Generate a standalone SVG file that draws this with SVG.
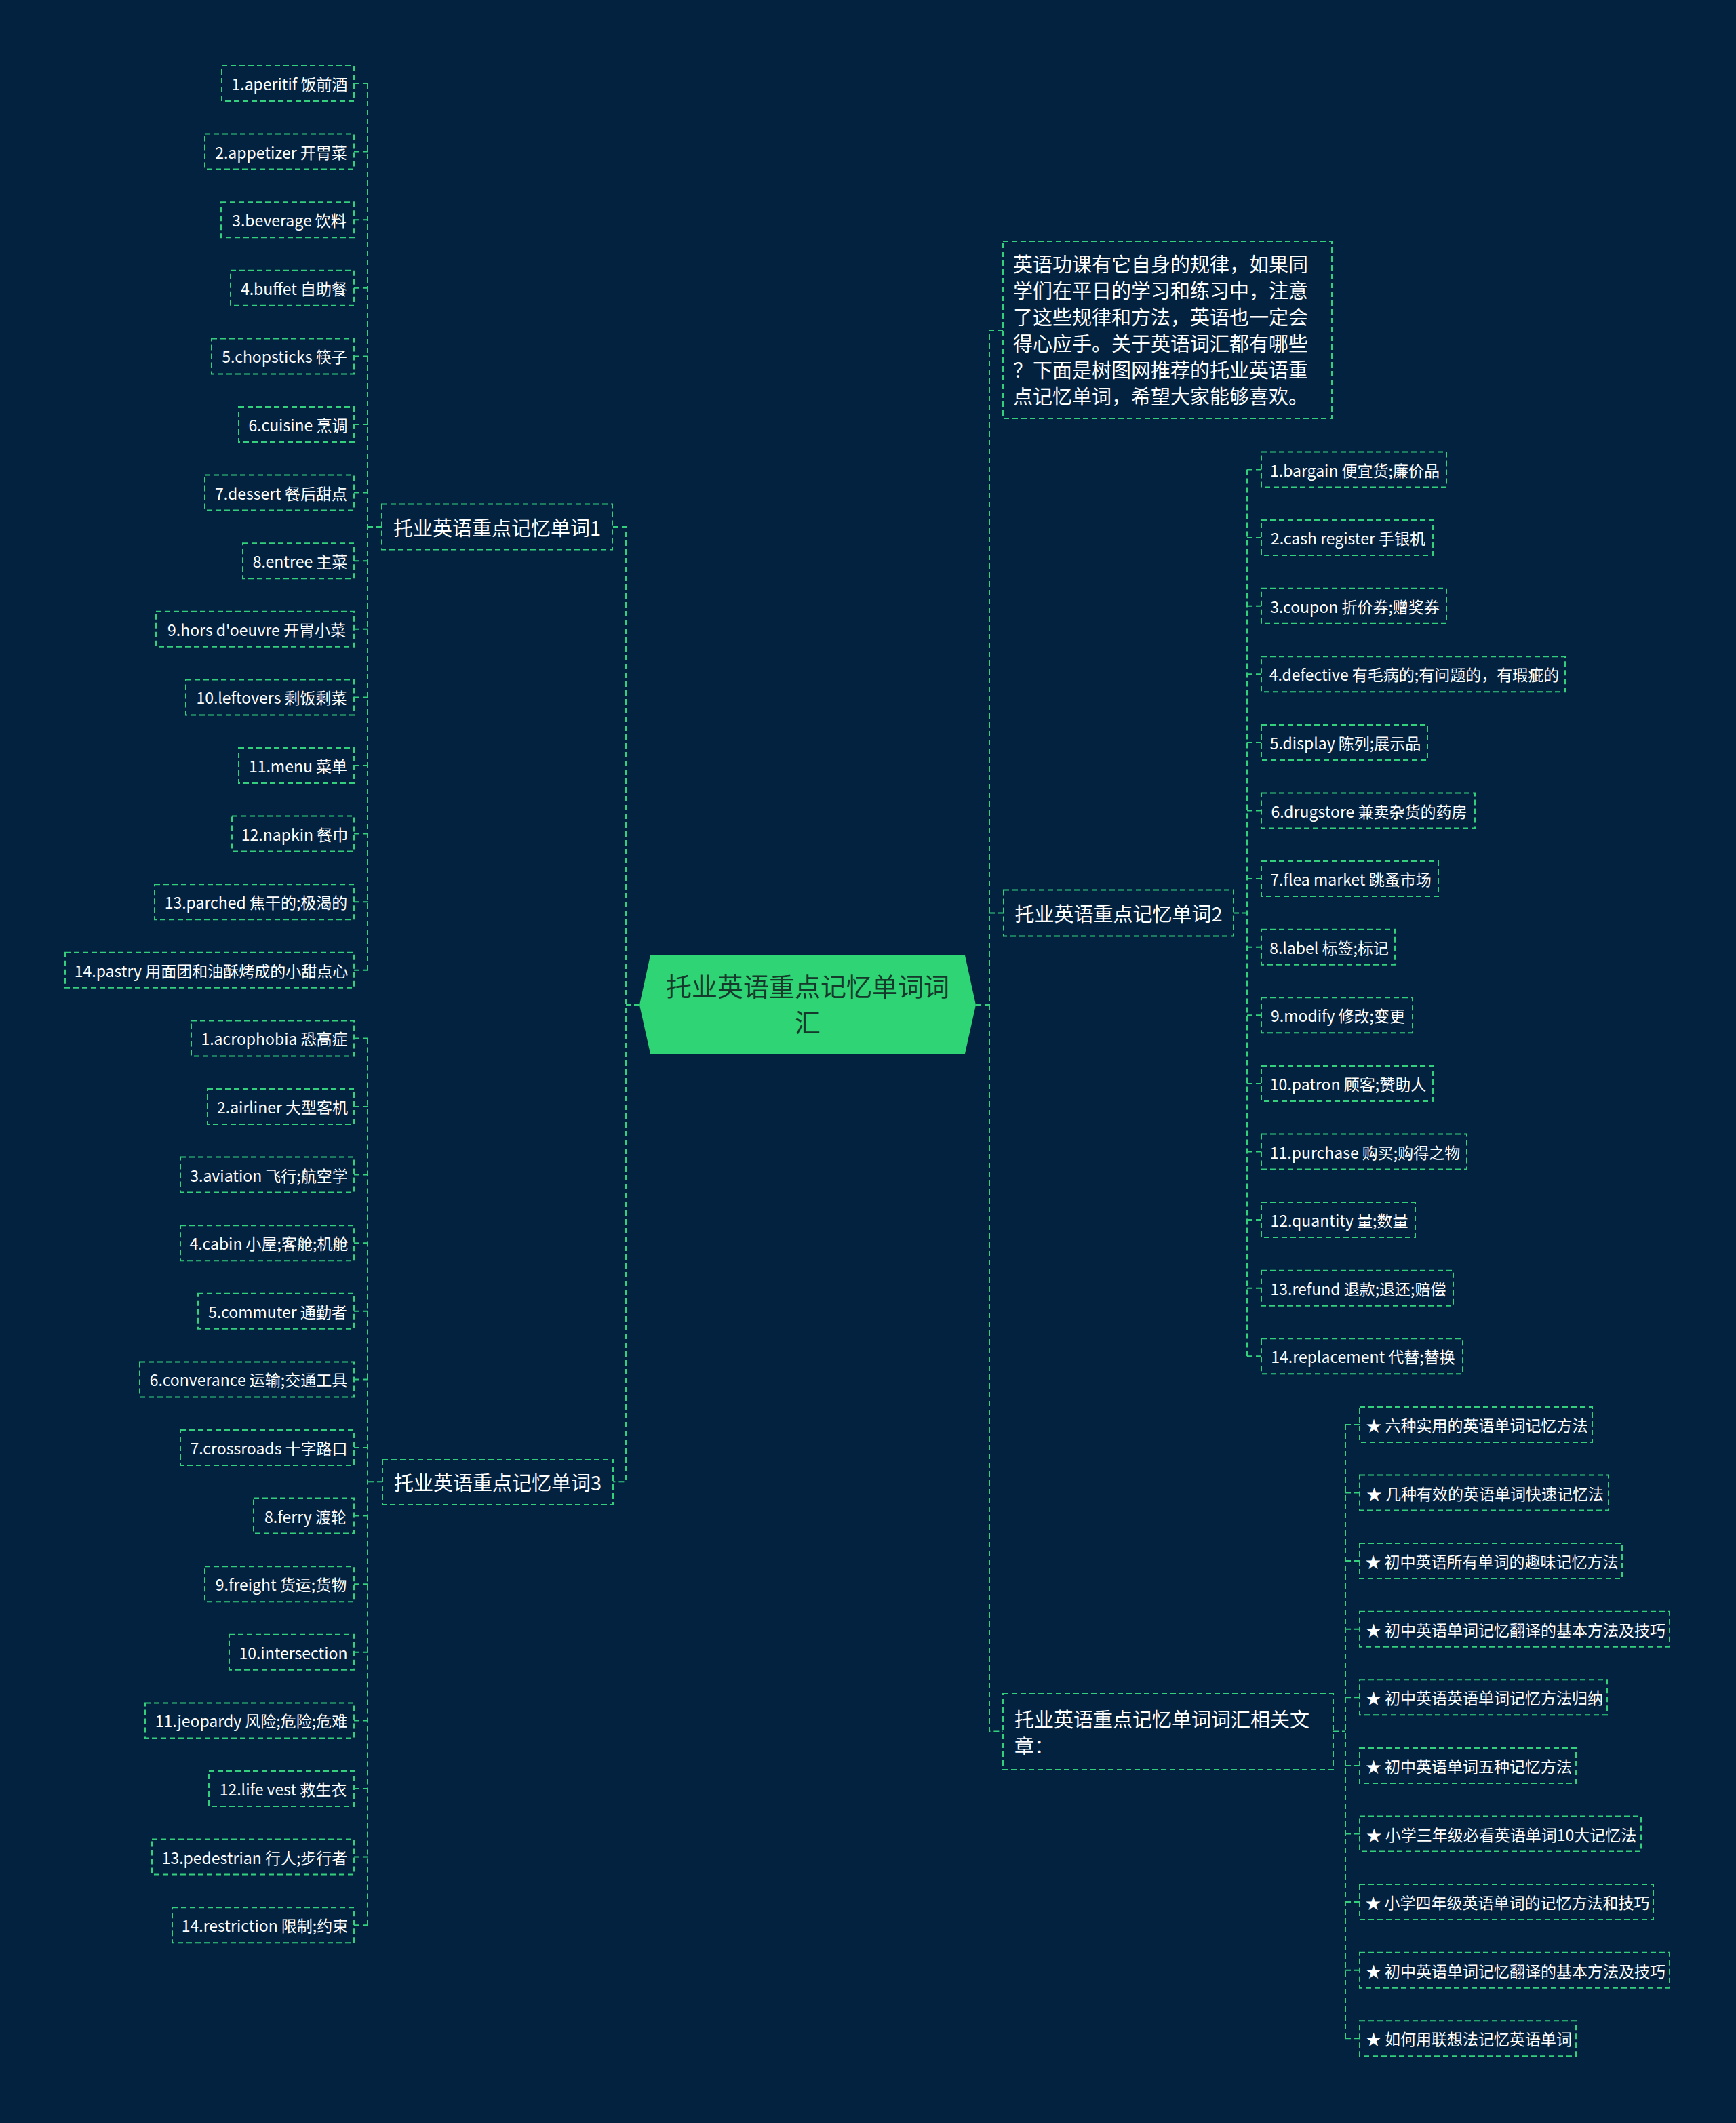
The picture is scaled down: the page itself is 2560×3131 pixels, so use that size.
<svg xmlns="http://www.w3.org/2000/svg" width="2560" height="3131" viewBox="0 0 2560 3131">
<style>
.bg{fill:#02223f}
.box{fill:none;stroke:#34cf7d;stroke-width:2;stroke-dasharray:8 5}
.ln{fill:none;stroke:#34cf7d;stroke-width:2;stroke-dasharray:8 5}
text{font-family:"Noto Sans CJK SC","Noto Sans",sans-serif;fill:#ffffff}
.lf{font-size:23px;text-anchor:middle;dominant-baseline:central}
.br{font-size:29px;text-anchor:middle;dominant-baseline:central}
.tx{font-size:29px;dominant-baseline:central}
.ct{font-size:38px;text-anchor:middle;dominant-baseline:central;fill:#153a2b}
</style>
<rect class="bg" x="0" y="0" width="2560" height="3131"/>
<g id="connectors">
<path class="ln" d="M943 1482H923M904 776.9H923V2185.3H904"/>
<path class="ln" d="M1439 1482H1459M1479 487H1459V2553.6H1479M1459 1346.4H1480"/>
<path class="ln" d="M563 776.9H542M542 123V1430.8M522 123H542M522 223.6H542M522 324.2H542M522 424.8H542M522 525.4H542M522 626H542M522 726.6H542M522 827.2H542M522 927.8H542M522 1028.4H542M522 1129H542M522 1229.6H542M522 1330.2H542M522 1430.8H542"/>
<path class="ln" d="M564 2185.3H542M542 1531.4V2839.2M522 1531.4H542M522 1632H542M522 1732.6H542M522 1833.2H542M522 1933.8H542M522 2034.4H542M522 2135H542M522 2235.6H542M522 2336.2H542M522 2436.8H542M522 2537.4H542M522 2638H542M522 2738.6H542M522 2839.2H542"/>
<path class="ln" d="M1819 1346.4H1839M1839 692.5V2000.3M1860 692.5H1839M1860 793.1H1839M1860 893.7H1839M1860 994.3H1839M1860 1094.9H1839M1860 1195.5H1839M1860 1296.1H1839M1860 1396.7H1839M1860 1497.3H1839M1860 1597.9H1839M1860 1698.5H1839M1860 1799.1H1839M1860 1899.7H1839M1860 2000.3H1839"/>
<path class="ln" d="M1966 2553.6H1984M1984 2100.9V3006.3M2005 2100.9H1984M2005 2201.5H1984M2005 2302.1H1984M2005 2402.7H1984M2005 2503.3H1984M2005 2603.9H1984M2005 2704.5H1984M2005 2805.1H1984M2005 2905.7H1984M2005 3006.3H1984"/>
</g>
<g id="center">
<polygon points="959,1409 1423,1409 1439,1482 1423,1554 959,1554 943,1482" fill="#2fd474"/>
<text class="ct" x="1191" y="1452">托业英语重点记忆单词词</text>
<text class="ct" x="1191" y="1505">汇</text>
</g>
<g id="intro">
<rect class="box" x="1479" y="356" width="485" height="261"/>
<text class="tx" x="1494" y="388">英语功课有它自身的规律，如果同</text>
<text class="tx" x="1494" y="427">学们在平日的学习和练习中，注意</text>
<text class="tx" x="1494" y="466">了这些规律和方法，英语也一定会</text>
<text class="tx" x="1494" y="505">得心应手。关于英语词汇都有哪些</text>
<text class="tx" x="1494" y="544">？下面是树图网推荐的托业英语重</text>
<text class="tx" x="1494" y="583">点记忆单词，希望大家能够喜欢。</text>
</g>
<g id="b1"><rect class="box" x="563" y="743.5" width="340" height="67"/><text class="br" x="733" y="776.9">托业英语重点记忆单词1</text></g>
<g id="b2"><rect class="box" x="1480" y="1312.5" width="339" height="68"/><text class="br" x="1649.5" y="1346.4">托业英语重点记忆单词2</text></g>
<g id="b3"><rect class="box" x="564" y="2152" width="340" height="67"/><text class="br" x="734" y="2185.3">托业英语重点记忆单词3</text></g>
<g id="b4"><rect class="box" x="1479" y="2498" width="487" height="112"/><text class="tx" x="1496" y="2534">托业英语重点记忆单词词汇相关文</text><text class="tx" x="1496" y="2573">章：</text></g>
<g id="l1" transform="translate(0,123)"><rect class="box" x="327" y="-26" width="195" height="52"/><text class="lf" x="427" y="0">1.aperitif 饭前酒</text></g>
<g id="l2" transform="translate(0,223.6)"><rect class="box" x="302" y="-26" width="220" height="52"/><text class="lf" x="414.5" y="0">2.appetizer 开胃菜</text></g>
<g id="l3" transform="translate(0,324.2)"><rect class="box" x="326" y="-26" width="196" height="52"/><text class="lf" x="426.5" y="0">3.beverage 饮料</text></g>
<g id="l4" transform="translate(0,424.8)"><rect class="box" x="340" y="-26" width="182" height="52"/><text class="lf" x="433.5" y="0">4.buffet 自助餐</text></g>
<g id="l5" transform="translate(0,525.4)"><rect class="box" x="312" y="-26" width="210" height="52"/><text class="lf" x="419.5" y="0">5.chopsticks 筷子</text></g>
<g id="l6" transform="translate(0,626)"><rect class="box" x="352" y="-26" width="170" height="52"/><text class="lf" x="439.5" y="0">6.cuisine 烹调</text></g>
<g id="l7" transform="translate(0,726.6)"><rect class="box" x="302" y="-26" width="220" height="52"/><text class="lf" x="414.5" y="0">7.dessert 餐后甜点</text></g>
<g id="l8" transform="translate(0,827.2)"><rect class="box" x="358" y="-26" width="164" height="52"/><text class="lf" x="442.5" y="0">8.entree 主菜</text></g>
<g id="l9" transform="translate(0,927.8)"><rect class="box" x="230" y="-26" width="292" height="52"/><text class="lf" x="378.5" y="0">9.hors d'oeuvre 开胃小菜</text></g>
<g id="l10" transform="translate(0,1028.4)"><rect class="box" x="274" y="-26" width="248" height="52"/><text class="lf" x="400.5" y="0">10.leftovers 剩饭剩菜</text></g>
<g id="l11" transform="translate(0,1129)"><rect class="box" x="352" y="-26" width="170" height="52"/><text class="lf" x="439.5" y="0">11.menu 菜单</text></g>
<g id="l12" transform="translate(0,1229.6)"><rect class="box" x="342" y="-26" width="180" height="52"/><text class="lf" x="434.5" y="0">12.napkin 餐巾</text></g>
<g id="l13" transform="translate(0,1330.2)"><rect class="box" x="228" y="-26" width="294" height="52"/><text class="lf" x="377.5" y="0">13.parched 焦干的;极渴的</text></g>
<g id="l14" transform="translate(0,1430.8)"><rect class="box" x="96" y="-26" width="426" height="52"/><text class="lf" x="311.5" y="0">14.pastry 用面团和油酥烤成的小甜点心</text></g>
<g id="m1" transform="translate(0,1531.4)"><rect class="box" x="282" y="-26" width="240" height="52"/><text class="lf" x="404.5" y="0">1.acrophobia 恐高症</text></g>
<g id="m2" transform="translate(0,1632)"><rect class="box" x="306" y="-26" width="216" height="52"/><text class="lf" x="416.5" y="0">2.airliner 大型客机</text></g>
<g id="m3" transform="translate(0,1732.6)"><rect class="box" x="266" y="-26" width="256" height="52"/><text class="lf" x="396.5" y="0">3.aviation 飞行;航空学</text></g>
<g id="m4" transform="translate(0,1833.2)"><rect class="box" x="266" y="-26" width="256" height="52"/><text class="lf" x="396.5" y="0">4.cabin 小屋;客舱;机舱</text></g>
<g id="m5" transform="translate(0,1933.8)"><rect class="box" x="292" y="-26" width="230" height="52"/><text class="lf" x="409.5" y="0">5.commuter 通勤者</text></g>
<g id="m6" transform="translate(0,2034.4)"><rect class="box" x="206" y="-26" width="316" height="52"/><text class="lf" x="366.5" y="0">6.converance 运输;交通工具</text></g>
<g id="m7" transform="translate(0,2135)"><rect class="box" x="266" y="-26" width="256" height="52"/><text class="lf" x="396.5" y="0">7.crossroads 十字路口</text></g>
<g id="m8" transform="translate(0,2235.6)"><rect class="box" x="374" y="-26" width="148" height="52"/><text class="lf" x="450.5" y="0">8.ferry 渡轮</text></g>
<g id="m9" transform="translate(0,2336.2)"><rect class="box" x="302" y="-26" width="220" height="52"/><text class="lf" x="414.5" y="0">9.freight 货运;货物</text></g>
<g id="m10" transform="translate(0,2436.8)"><rect class="box" x="338" y="-26" width="184" height="52"/><text class="lf" x="432.5" y="0">10.intersection</text></g>
<g id="m11" transform="translate(0,2537.4)"><rect class="box" x="214" y="-26" width="308" height="52"/><text class="lf" x="370.5" y="0">11.jeopardy 风险;危险;危难</text></g>
<g id="m12" transform="translate(0,2638)"><rect class="box" x="308" y="-26" width="214" height="52"/><text class="lf" x="417.5" y="0">12.life vest 救生衣</text></g>
<g id="m13" transform="translate(0,2738.6)"><rect class="box" x="224" y="-26" width="298" height="52"/><text class="lf" x="375.5" y="0">13.pedestrian 行人;步行者</text></g>
<g id="m14" transform="translate(0,2839.2)"><rect class="box" x="254" y="-26" width="268" height="52"/><text class="lf" x="390.5" y="0">14.restriction 限制;约束</text></g>
<g id="r1" transform="translate(0,692.5)"><rect class="box" x="1860" y="-26" width="273" height="52"/><text class="lf" x="1998" y="0">1.bargain 便宜货;廉价品</text></g>
<g id="r2" transform="translate(0,793.1)"><rect class="box" x="1860" y="-26" width="253" height="52"/><text class="lf" x="1988" y="0">2.cash register 手银机</text></g>
<g id="r3" transform="translate(0,893.7)"><rect class="box" x="1860" y="-26" width="273" height="52"/><text class="lf" x="1998" y="0">3.coupon 折价券;赠奖券</text></g>
<g id="r4" transform="translate(0,994.3)"><rect class="box" x="1860" y="-26" width="448" height="52"/><text class="lf" x="2085.5" y="0">4.defective 有毛病的;有问题的，有瑕疵的</text></g>
<g id="r5" transform="translate(0,1094.9)"><rect class="box" x="1860" y="-26" width="245" height="52"/><text class="lf" x="1984" y="0">5.display 陈列;展示品</text></g>
<g id="r6" transform="translate(0,1195.5)"><rect class="box" x="1860" y="-26" width="315" height="52"/><text class="lf" x="2019" y="0">6.drugstore 兼卖杂货的药房</text></g>
<g id="r7" transform="translate(0,1296.1)"><rect class="box" x="1860" y="-26" width="261" height="52"/><text class="lf" x="1992" y="0">7.flea market 跳蚤市场</text></g>
<g id="r8" transform="translate(0,1396.7)"><rect class="box" x="1860" y="-26" width="197" height="52"/><text class="lf" x="1960" y="0">8.label 标签;标记</text></g>
<g id="r9" transform="translate(0,1497.3)"><rect class="box" x="1860" y="-26" width="223" height="52"/><text class="lf" x="1973" y="0">9.modify 修改;变更</text></g>
<g id="r10" transform="translate(0,1597.9)"><rect class="box" x="1860" y="-26" width="253" height="52"/><text class="lf" x="1988" y="0">10.patron 顾客;赞助人</text></g>
<g id="r11" transform="translate(0,1698.5)"><rect class="box" x="1860" y="-26" width="303" height="52"/><text class="lf" x="2013" y="0">11.purchase 购买;购得之物</text></g>
<g id="r12" transform="translate(0,1799.1)"><rect class="box" x="1860" y="-26" width="227" height="52"/><text class="lf" x="1975" y="0">12.quantity 量;数量</text></g>
<g id="r13" transform="translate(0,1899.7)"><rect class="box" x="1860" y="-26" width="283" height="52"/><text class="lf" x="2003" y="0">13.refund 退款;退还;赔偿</text></g>
<g id="r14" transform="translate(0,2000.3)"><rect class="box" x="1860" y="-26" width="297" height="52"/><text class="lf" x="2010" y="0">14.replacement 代替;替换</text></g>
<g id="s1" transform="translate(0,2100.9)"><rect class="box" x="2005" y="-26" width="343" height="52"/><text class="lf" x="2178" y="0">★ 六种实用的英语单词记忆方法</text></g>
<g id="s2" transform="translate(0,2201.5)"><rect class="box" x="2005" y="-26" width="367" height="52"/><text class="lf" x="2190" y="0">★ 几种有效的英语单词快速记忆法</text></g>
<g id="s3" transform="translate(0,2302.1)"><rect class="box" x="2005" y="-26" width="387" height="52"/><text class="lf" x="2200" y="0">★ 初中英语所有单词的趣味记忆方法</text></g>
<g id="s4" transform="translate(0,2402.7)"><rect class="box" x="2005" y="-26" width="457" height="52"/><text class="lf" x="2235" y="0">★ 初中英语单词记忆翻译的基本方法及技巧</text></g>
<g id="s5" transform="translate(0,2503.3)"><rect class="box" x="2005" y="-26" width="365" height="52"/><text class="lf" x="2189" y="0">★ 初中英语英语单词记忆方法归纳</text></g>
<g id="s6" transform="translate(0,2603.9)"><rect class="box" x="2005" y="-26" width="319" height="52"/><text class="lf" x="2166" y="0">★ 初中英语单词五种记忆方法</text></g>
<g id="s7" transform="translate(0,2704.5)"><rect class="box" x="2005" y="-26" width="415" height="52"/><text class="lf" x="2214" y="0">★ 小学三年级必看英语单词10大记忆法</text></g>
<g id="s8" transform="translate(0,2805.1)"><rect class="box" x="2005" y="-26" width="433" height="52"/><text class="lf" x="2223" y="0">★ 小学四年级英语单词的记忆方法和技巧</text></g>
<g id="s9" transform="translate(0,2905.7)"><rect class="box" x="2005" y="-26" width="457" height="52"/><text class="lf" x="2235" y="0">★ 初中英语单词记忆翻译的基本方法及技巧</text></g>
<g id="s10" transform="translate(0,3006.3)"><rect class="box" x="2005" y="-26" width="319" height="52"/><text class="lf" x="2166" y="0">★ 如何用联想法记忆英语单词</text></g>
</svg>
